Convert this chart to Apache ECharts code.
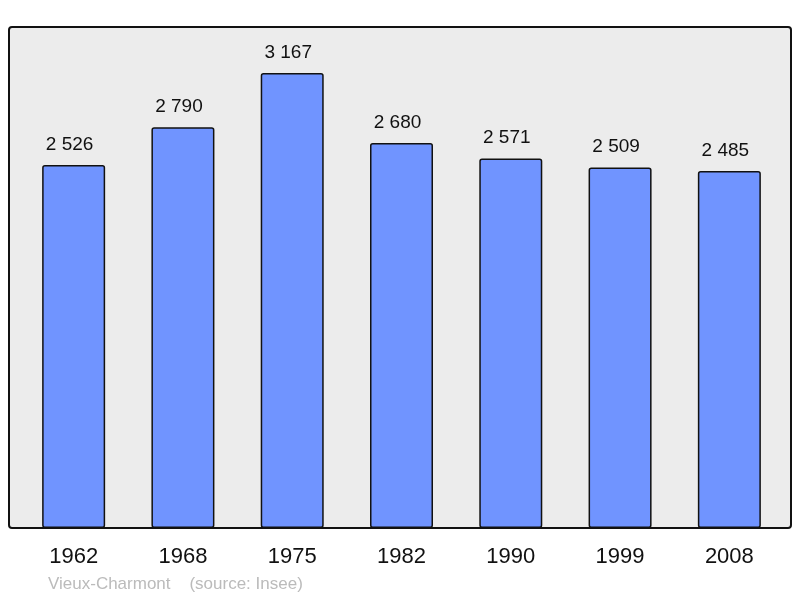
<!DOCTYPE html>
<html>
<head>
<meta charset="utf-8">
<script src="https://cdn.jsdelivr.net/npm/echarts@6/dist/echarts.min.js"></script>
<style>
  html, body { margin: 0; padding: 0; background: #fff; }
  #chart { width: 800px; height: 598px; }
</style>
</head>
<body>
<div id="chart"></div>
<script>
// population data
var years = ['1962', '1968', '1975', '1982', '1990', '1999', '2008']
var population = [2526, 2790, 3167, 2680, 2571, 2509, 2485]
var footerText = 'Vieux-Charmont    (source: Insee)'

var myChart = echarts.init(document.getElementById('chart'))

function fmt (v) {
  return String(v).replace(/(?=(?!^)(\d{3})+$)/g, ' ')
}

myChart.setOption({
  animation: false,
  textStyle: { fontFamily: 'Liberation Sans' },
  graphic: [
    {
      type: 'rect',
      z: -10,
      shape: { x: 9, y: 27, width: 782, height: 501, r: 3 },
      style: { fill: '#ececec', stroke: '#111', lineWidth: 2 }
    },
    {
      type: 'text',
      left: 48,
      top: 576,
      style: { text: footerText, fill: '#bbbbbb', font: '17px "Liberation Sans"' }
    }
  ],
  grid: {
    left: 19,
    right: 16,
    top: 27,
    height: 501
  },
  xAxis: {
    type: 'category',
    data: years,
    axisLine: { show: false },
    axisTick: { show: false },
    axisLabel: {
      color: '#111',
      fontSize: 22,
      margin: 18
    }
  },
  yAxis: {
    type: 'value',
    min: 0,
    max: 3487,
    show: false,
    splitLine: { show: false }
  },
  series: [
    {
      type: 'bar',
      data: population,
      barWidth: 63,
      itemStyle: {
        color: '#7094ff',
        borderColor: '#111',
        borderWidth: 1.5,
        borderRadius: 2
      },
      label: {
        show: true,
        position: 'top',
        distance: 11,
        offset: [-4, 0],
        color: '#111',
        fontSize: 19,
        formatter: function (p) { return fmt(p.value) }
      }
    }
  ]
})
</script>
</body>
</html>
